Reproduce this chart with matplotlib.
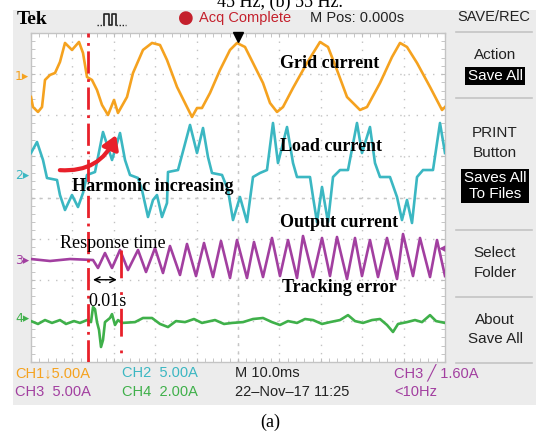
import matplotlib.pyplot as plt
from matplotlib.patches import Rectangle, FancyArrowPatch
from matplotlib.ticker import MultipleLocator

plt.rcParams['lines.scale_dashes'] = False

W, H = 536, 434

# ---- traces: time in ms (10 ms/div), current in A ----
t_grid = [0, 0.48, 1.69, 2.66, 3.38, 4.59, 5.80, 7.00, 8.21, 9.90, 11.59, 12.56, 13.53, 14.73,
          15.94, 17.15, 18.60, 20.05, 21.01, 23.19, 24.64, 27.05, 29.23, 31.16, 32.85, 35.27,
          37.68, 38.89, 40.10, 41.30, 43.24, 45.65, 48.07, 49.76, 51.69, 53.62, 56.04, 57.73,
          59.42, 60.87, 63.29, 66.67, 69.81, 71.74, 73.91, 76.33, 79.47, 81.16, 84.30, 87.20,
          89.13, 90.82, 93.24, 96.38, 99.28, 100]
i_grid = [-2.53, -3.75, -4.35, -3.75, -0.46, 0.15, 0.39, 1.73, 4.04, 3.19, 4.16, 2.82, -0.10, -0.46,
          -1.68, -3.50, -4.72, -2.89, -4.47, -2.53, 0.39, 3.19, 4.04, 3.79, 1.97, -1.31,
          -3.75, -4.96, -3.87, -3.87, -2.04, 0.75, 3.19, 4.04, 3.55, 1.61, -0.83, -3.26,
          -4.35, -3.75, -1.43, 1.61, 4.16, 3.55, 0.75, -2.53, -4.11, -3.75, -0.83, 2.33,
          4.04, 3.55, 1.61, -1.31, -4.11, -3.75]

t_load = [0, 1.45, 2.90, 3.86, 6.28, 7.00, 8.21, 9.90, 11.35, 12.56, 13.53, 15.46, 17.39, 19.57,
          21.50, 22.71, 23.91, 25.85, 26.81, 28.26, 29.47, 30.43, 31.64, 32.85, 33.09, 35.51,
          38.41, 40.10, 41.55, 42.75, 43.72, 46.14, 47.58, 48.79, 50.48, 52.17, 53.62, 55.31,
          57.00, 58.45, 59.66, 61.84, 63.29, 64.25, 67.39, 68.12, 69.08, 70.29, 71.74, 72.95,
          74.64, 76.57, 78.74, 79.95, 81.88, 83.09, 84.30, 86.71, 88.41, 89.61, 90.82, 92.03,
          93.24, 94.69, 97.10, 98.79, 100]
i_load = [2.76, 4.10, 1.91, -0.28, -0.52, -2.35, -4.17, -2.35, -3.81, -2.10, 0.09, 0.45, 5.31, 1.91,
          5.19, 1.91, 0.09, -0.28, -1.74, -5.02, -2.95, -2.35, -5.02, -3.32, 0.45, 0.69,
          6.17, 2.76, 5.80, 2.27, 0.33, 0.09, -1.74, -5.39, -2.59, -5.63, -0.16, 0.33,
          0.69, 6.41, 1.54, 5.92, 1.54, -0.16, -0.16, -2.59, -5.63, -1.37, -5.63, -0.16,
          0.69, 0.69, 6.41, 2.76, 5.92, 1.54, -0.16, -0.16, -2.59, -5.39, -2.95, -5.75,
          -0.16, 0.69, 0.69, 6.41, 2.76]

t_out = [0, 4.59, 9.42, 14.98, 16.18, 17.87, 19.57, 21.50, 23.43, 25.85, 27.78, 29.95, 31.88,
         33.57, 35.99, 37.68, 39.86, 41.79, 43.96, 45.89, 48.07, 49.76, 52.17, 53.86, 56.04,
         58.21, 60.14, 62.08, 64.25, 65.70, 68.12, 70.29, 72.22, 73.91, 76.33, 78.26, 79.95,
         81.88, 83.82, 85.99, 88.41, 89.86, 92.27, 93.96, 96.38, 98.07, 100]
i_out = [0.12, -0.12, 0.12, 0.00, -0.97, 0.85, -0.97, 1.22, -1.22, 1.22, -1.46, 1.46, -1.58,
         1.70, -1.82, 1.95, -1.95, 2.07, -2.07, 2.31, -2.19, 2.43, -2.19, 2.19, -2.07,
         2.68, -1.95, 2.43, -2.19, 2.92, -2.07, 2.68, -1.95, 2.80, -2.31, 2.68, -1.95,
         2.43, -2.07, 2.68, -2.31, 3.16, -1.95, 2.68, -2.07, 2.43, -1.95]

t_err = [0, 1.69, 3.38, 5.07, 7.00, 8.45, 10.39, 11.84, 13.53, 14.49, 14.98, 15.46, 15.94, 16.43,
         16.91, 17.39, 17.87, 19.08, 19.57, 20.29, 21.01, 21.98, 25.12, 27.05, 29.23, 31.16,
         33.09, 35.02, 37.20, 39.37, 41.30, 44.44, 46.62, 48.55, 51.21, 53.62, 56.04, 58.21,
         60.14, 62.08, 64.25, 66.18, 68.12, 70.29, 72.22, 74.64, 76.57, 78.26, 80.19, 82.37,
         84.30, 85.99, 87.44, 88.65, 90.82, 92.75, 94.44, 96.38, 97.83, 100]
i_err = [-0.11, -0.25, -0.06, -0.20, -0.06, -0.25, -0.11, -0.20, -0.06, -0.16, 0.57, 0.47, -0.16, -0.54,
         -1.37, -1.03, -0.16, 0.04, 0.23, -0.30, -0.06, -0.20, -0.16, 0.04, 0.04, -0.25,
         -0.40, -0.11, -0.16, -0.01, -0.20, -0.06, -0.25, -0.20, -0.16, -0.01, 0.04, -0.16,
         -0.30, -0.11, -0.20, -0.01, -0.06, -0.25, -0.16, -0.06, 0.18, -0.11, -0.20, -0.06,
         -0.01, -0.30, -0.64, -0.25, -0.16, -0.06, -0.16, 0.18, -0.11, -0.20]

# A/div of each channel and its ground marker on screen (div)
scales = [5.0, 5.0, 5.0, 2.0]
offsets = [2.95, 0.53, -1.52, -2.95]
colors = ['#f5a21f', '#3bb7c2', '#a23fa0', '#3fb04a']

t_start, t_settle = 13.8, 21.7   # harmonic step and end of response (ms)

fig = plt.figure(figsize=(W / 100, H / 100), dpi=100)
fig.patch.set_facecolor('white')


def fx(x):
    return x / W


def fy(y):
    return 1 - y / H


# scope frame background
fig.patches.append(Rectangle((fx(13), fy(405)), (536 - 13) / W, (405 - 10) / H,
                             transform=fig.transFigure, facecolor='#ececec', edgecolor='none', zorder=-5))
for yy in [32, 98, 230, 297, 363]:
    fig.add_artist(plt.Line2D([fx(456), fx(532)], [fy(yy), fy(yy)], color='#c4c4c4', lw=1.2))

ax = fig.add_axes([fx(31), fy(362), 414 / W, 329 / H])
ax.set_facecolor('white')
ax.set_xlim(0, 100)
ax.set_ylim(-4, 4)
ax.xaxis.set_major_locator(MultipleLocator(10))
ax.yaxis.set_major_locator(MultipleLocator(1))
ax.xaxis.set_minor_locator(MultipleLocator(2))
ax.yaxis.set_minor_locator(MultipleLocator(0.2))
ax.tick_params(which='both', direction='in', length=3, color='#bdbdbd', top=True, right=True,
               labelbottom=False, labelleft=False)
for s in ax.spines.values():
    s.set_color('#c4c4c4')
    s.set_linewidth(1.0)
for v in range(10, 100, 10):
    ax.axvline(v, color='#c2c2c2', lw=1.0, ls=(0, (1, 4.9)), zorder=1)
for v in range(-3, 4):
    ax.axhline(v, color='#c2c2c2', lw=1.0, ls=(0, (1, 4.9)), zorder=1)
ax.axhline(0, color='#c6c6c6', lw=1.0, ls=(0, (2.2, 3.7)), zorder=1)
ax.axvline(50, color='#c6c6c6', lw=1.0, ls=(0, (2.2, 3.7)), zorder=1)

traces = [(t_grid, i_grid), (t_load, i_load), (t_out, i_out), (t_err, i_err)]
for (t, i), sc, off, c in zip(traces, scales, offsets, colors):
    ax.plot(t, [v / sc + off for v in i], color=c, lw=1.9, zorder=3, solid_joinstyle='round')

# trigger position marker
ax.plot([50], [3.9], marker='v', ms=7, color='black', clip_on=False, zorder=5)
ax.text(99.3, -1.25, '\u25c2', color=colors[2], fontsize=9, ha='center', va='center', zorder=5)

# red event lines
ax.axvline(t_start, color='#e8202a', lw=2.0, ls=(0, (16, 4, 2, 4)), zorder=4)
ax.plot([t_settle, t_settle], [-1.28, -4], color='#e8202a', lw=2.0, ls=(0, (20, 10, 2, 10)), zorder=4)
ax.annotate('', xy=(t_settle - 0.3, -2.0), xytext=(t_start + 0.5, -2.0),
            arrowprops=dict(arrowstyle='<->', color='black', lw=1.0), zorder=5)
ax.add_patch(FancyArrowPatch((6.3, 0.67), (20.8, 1.58), connectionstyle='arc3,rad=0.38',
                             arrowstyle='-|>,head_width=5,head_length=8', color='#e8202a',
                             lw=3.0, zorder=6))

serif = 'Liberation Serif'
lab = dict(family=serif, fontsize=13, fontweight='bold', color='black', va='center', zorder=7)
ax.text(60.1, 3.27, 'Grid current', **lab)
ax.text(60.1, 1.23, 'Load current', **lab)
ax.text(9.9, 0.26, 'Harmonic increasing', **lab)
ax.text(60.1, -0.62, 'Output current', **lab)
ax.text(60.6, -2.2, 'Tracking error', **lab)
ax.text(7.0, -1.11, 'Response time', family=serif, fontsize=13, color='black', va='center', zorder=7)
ax.text(13.8, -2.52, '0.01s', family=serif, fontsize=13, color='black', va='center', zorder=7)

# channel ground markers
for k, (off, c) in enumerate(zip(offsets, colors)):
    fig.text(fx(15), fy(197.5 - off * 41.125), f'{k + 1}\u25b8', color=c, fontsize=9,
             family='DejaVu Sans', va='center', ha='left')

# header
sans = 'Liberation Sans'
symfam = ['DejaVu Sans', 'Noto Sans', 'Noto Sans CJK JP']
fig.text(fx(217), fy(7), '45 Hz, (b) 55 Hz.', family=serif, fontsize=13, va='baseline')
fig.text(fx(17), fy(20), 'Tek', family=serif, fontweight='bold', fontsize=14, va='center')
# trigger-type pulse icon (no installed font has the glyph)
fig.add_artist(plt.Line2D([fx(97), fx(104)], [fy(25), fy(25)], color='#222222', lw=1.0, ls=(0, (1, 1.2))))
fig.add_artist(plt.Line2D([fx(104), fx(104), fx(109), fx(109), fx(112), fx(112), fx(116), fx(116)],
                          [fy(25), fy(14), fy(14), fy(25), fy(25), fy(14), fy(14), fy(25)],
                          color='#222222', lw=1.2))
fig.add_artist(plt.Line2D([fx(116), fx(126)], [fy(25), fy(25)], color='#222222', lw=1.0, ls=(0, (1, 1.2))))
fig.text(fx(186), fy(18), '\u25cf', family='DejaVu Sans', fontsize=13, color='#c4202c', va='center', ha='center')
fig.text(fx(199), fy(18), 'Acq Complete', family=sans, fontsize=10.5, color='#c4202c', va='center')
fig.text(fx(310), fy(18), 'M Pos: 0.000s', family=sans, fontsize=10.5, color='#222222', va='center')
fig.text(fx(494), fy(17), 'SAVE/REC', family=sans, fontsize=10.5, color='#222222', va='center', ha='center')

# side menu
menu = dict(family=sans, fontsize=11, color='#222222', va='center', ha='center')
fig.text(fx(495), fy(55), 'Action', **menu)
fig.text(fx(495), fy(76), 'Save All', family=sans, fontsize=11, color='white', va='center', ha='center',
         bbox=dict(facecolor='black', edgecolor='none', pad=1.5))
fig.text(fx(495), fy(133), 'PRINT', **menu)
fig.text(fx(495), fy(153), 'Button', **menu)
fig.text(fx(495), fy(186), 'Saves All\nTo Files', family=sans, fontsize=11, color='white', va='center',
         ha='center', linespacing=1.1, bbox=dict(facecolor='black', edgecolor='none', pad=2))
fig.text(fx(495), fy(253), 'Select', **menu)
fig.text(fx(495), fy(273), 'Folder', **menu)
fig.text(fx(495), fy(320), 'About', **menu)
fig.text(fx(495), fy(339), 'Save All', **menu)

# status bar
st = dict(family=[sans] + symfam, fontsize=10.5, va='center')
fig.text(fx(15), fy(373), 'CH1\u21935.00A', color=colors[0], **st)
fig.text(fx(122), fy(373), 'CH2  5.00A', color=colors[1], **st)
fig.text(fx(235), fy(373), 'M 10.0ms', color='#222222', **st)
fig.text(fx(394), fy(373), 'CH3 \u2571 1.60A', color=colors[2], **st)
fig.text(fx(15), fy(392), 'CH3  5.00A', color=colors[2], **st)
fig.text(fx(122), fy(392), 'CH4  2.00A', color=colors[3], **st)
fig.text(fx(235), fy(392), '22\u2013Nov\u201317 11:25', color='#222222', **st)
fig.text(fx(394), fy(392), '<10Hz', color=colors[2], **st)

fig.text(fx(270), fy(422), '(a)', family=serif, fontsize=13, va='center', ha='center')

fig.savefig('out.png', dpi=100)
